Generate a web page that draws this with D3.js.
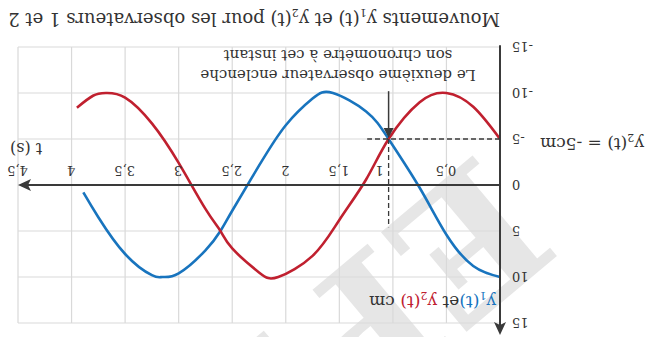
<!DOCTYPE html>
<html>
<head>
<meta charset="utf-8">
<script src="https://cdn.jsdelivr.net/npm/d3@7"></script>
<style>
  html, body { margin: 0; padding: 0; background: #fff; }
  svg { display: block; }
  text { font-family: "DejaVu Serif", "Liberation Serif", serif; fill: #333; }
</style>
</head>
<body>
<svg id="chart" width="653" height="337"></svg>
<script>
// Time ticks (s) and displacement ticks (cm)
const tTicks = [0.5, 1, 1.5, 2, 2.5, 3, 3.5, 4, 4.5];
const yTicks = [-15, -10, -5, 0, 5, 10, 15];

// Observer 1: y1(t)
const blueT = [0, 0.25, 0.5, 0.75, 1.04, 1.25, 1.56, 1.75, 2.0, 2.25, 2.5, 2.61, 2.75, 3.0, 3.15, 3.25, 3.5, 3.75, 3.89];
const blueY = [10, 8.8, 5.4, 0.3, -5, -8.0, -10, -9.4, -6.5, -2.1, 2.8, 5, 7.1, 9.6, 10, 9.8, 7.5, 3.5, 0.8];

// Observer 2: y2(t)
const redT = [0, 0.25, 0.5, 0.75, 1.04, 1.25, 1.5, 1.75, 2.07, 2.25, 2.5, 2.61, 2.75, 3.0, 3.25, 3.5, 3.68, 3.8, 3.95];
const redY = [-5, -8.5, -10, -9.0, -5, -0.6, 3.8, 7.7, 10, 9.5, 6.9, 5, 2.6, -2.4, -6.7, -9.5, -10, -9.7, -8.4];

// Instant when the second observer starts the stopwatch
const meetT = 1.04;
const meetY = -5;

const W = 653, H = 337;
const BLUE = "#1874be", RED = "#c0202f", AXIS = "#3a3a3a", GRID = "#d9d9d9";

const svg = d3.select("#chart");
// the whole figure is drawn turned half a turn
const root = svg.append("g").attr("transform", `rotate(180 ${W / 2} ${H / 2})`);

const x = d3.scaleLinear().domain([0, 4.5]).range([153, 635]);
const y = d3.scaleLinear().domain([-15, 15]).range([290, 14]);

const fr = d3.formatLocale({ decimal: ",", thousands: " ", grouping: [3], currency: ["", "€"], minus: "-" });
const fmt = fr.format("~g");

// faint proof stamp behind the figure
root.append("text")
  .attr("transform", "translate(174,187) rotate(-40)")
  .attr("font-family", "DejaVu Sans").attr("font-weight", "bold").attr("font-size", 180)
  .style("fill", "#e6e6e6")
  .text("EPREUVE");

// grid
const grid = root.append("g").attr("stroke", GRID).attr("stroke-width", 1.2);
grid.selectAll("line.v").data(tTicks).join("line")
  .attr("x1", d => x(d)).attr("x2", d => x(d))
  .attr("y1", y(-15)).attr("y2", y(15));
grid.selectAll("line.h").data(yTicks).join("line")
  .attr("x1", x(0)).attr("x2", x(4.5))
  .attr("y1", d => y(d)).attr("y2", d => y(d));

// curves
const line = d3.line().x(d => x(d[0])).y(d => y(d[1])).curve(d3.curveNatural);
root.append("path").datum(d3.zip(blueT, blueY))
  .attr("fill", "none").attr("stroke", BLUE).attr("stroke-width", 2.6).attr("d", line);
root.append("path").datum(d3.zip(redT, redY))
  .attr("fill", "none").attr("stroke", RED).attr("stroke-width", 2.6).attr("d", line);

// dashed guides at the meeting point
const guides = root.append("g").attr("stroke", AXIS).attr("stroke-width", 1.3).attr("stroke-dasharray", "5,3");
guides.append("line").attr("x1", x(0)).attr("x2", x(1.24)).attr("y1", y(meetY)).attr("y2", y(meetY));
guides.append("line").attr("x1", x(meetT)).attr("x2", x(meetT)).attr("y1", y(meetY)).attr("y2", y(4.6));

// axes
const axes = root.append("g");
axes.append("line").attr("x1", x(0)).attr("x2", x(4.5) - 8).attr("y1", y(0)).attr("y2", y(0))
  .attr("stroke", AXIS).attr("stroke-width", 2);
axes.append("path")
  .attr("d", `M${x(4.5)},${y(0)} L${x(4.5) - 13},${y(0) - 6} L${x(4.5) - 10},${y(0)} L${x(4.5) - 13},${y(0) + 6} Z`)
  .attr("fill", AXIS);
axes.append("line").attr("x1", x(0)).attr("x2", x(0)).attr("y1", y(-15.2)).attr("y2", y(16.3) + 8)
  .attr("stroke", AXIS).attr("stroke-width", 2);
axes.append("path")
  .attr("d", `M${x(0)},${y(16.3)} L${x(0) - 6},${y(16.3) + 13} L${x(0)},${y(16.3) + 10} L${x(0) + 6},${y(16.3) + 13} Z`)
  .attr("fill", AXIS);

// tick labels
const xAxis = d3.axisBottom(x).tickValues(tTicks).tickSize(0).tickPadding(10).tickFormat(fmt);
const gx = root.append("g").attr("transform", `translate(0,${y(0)})`).call(xAxis);
gx.select(".domain").remove();
gx.selectAll("text").attr("font-size", 13).attr("font-family", "DejaVu Serif").attr("fill", "#333")
  .attr("dx", d => d === 1 ? 13 : 0);

const yAxis = d3.axisLeft(y).tickValues(yTicks).tickSize(0).tickPadding(12).tickFormat(fmt);
const gy = root.append("g").attr("transform", `translate(${x(0)},0)`).call(yAxis);
gy.select(".domain").remove();
gy.selectAll("text").attr("font-size", 13).attr("font-family", "DejaVu Serif").attr("fill", "#333");

// arrow pointing at the meeting point
root.append("line").attr("x1", x(meetT)).attr("x2", x(meetT)).attr("y1", y(-10.2)).attr("y2", y(meetY) + 8)
  .attr("stroke", AXIS).attr("stroke-width", 1.5);
root.append("path")
  .attr("d", `M${x(meetT)},${y(meetY) + 1} L${x(meetT) - 5},${y(meetY) + 11} L${x(meetT) + 5},${y(meetY) + 11} Z`)
  .attr("fill", AXIS);

// annotation
const note = root.append("text").attr("text-anchor", "middle").attr("font-size", 15);
note.append("tspan").attr("x", 315).attr("y", 267).text("Le deuxième observateur enclenche");
note.append("tspan").attr("x", 315).attr("y", 287).text("son chronomètre à cet instant");

// y2 = -5 label
const lab = root.append("text").attr("text-anchor", "end").attr("x", 113).attr("y", 199).attr("font-size", 17);
lab.append("tspan").text("y");
lab.append("tspan").attr("font-size", 11).attr("dy", 4).text("2");
lab.append("tspan").attr("dy", -4).text("(t) = -5cm");

// axis titles
const yl = root.append("text").attr("x", 157).attr("y", 41).attr("font-size", 17);
yl.append("tspan").attr("fill", BLUE).text("y");
yl.append("tspan").attr("fill", BLUE).attr("font-size", 11).attr("dy", 4).text("1");
yl.append("tspan").attr("fill", BLUE).attr("dy", -4).text("(t)");
yl.append("tspan").text("et ");
yl.append("tspan").attr("fill", RED).text("y");
yl.append("tspan").attr("fill", RED).attr("font-size", 11).attr("dy", 4).text("2");
yl.append("tspan").attr("fill", RED).attr("dy", -4).text("(t)");
yl.append("tspan").text(" cm");

root.append("text").attr("x", 643).attr("y", 194).attr("text-anchor", "end").attr("font-size", 16).text("t (s)");

// title
const title = root.append("text").attr("x", 153).attr("y", 324).attr("font-size", 18);
title.append("tspan").text("Mouvements y");
title.append("tspan").attr("font-size", 11).attr("dy", 4).text("1");
title.append("tspan").attr("dy", -4).text("(t) et y");
title.append("tspan").attr("font-size", 11).attr("dy", 4).text("2");
title.append("tspan").attr("dy", -4).text("(t) pour les observateurs 1 et 2");
</script>
</body>
</html>
